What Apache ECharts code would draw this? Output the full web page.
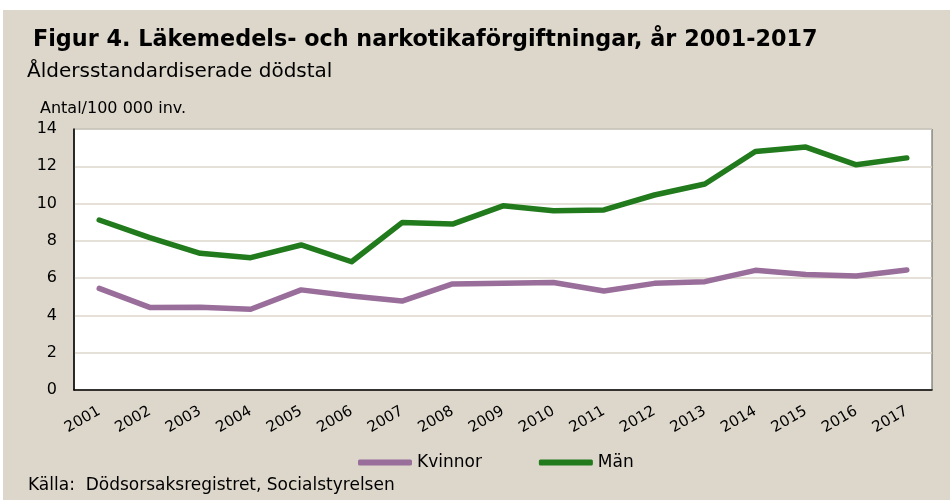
<!DOCTYPE html>
<html><head><meta charset="utf-8">
<script src="https://cdn.jsdelivr.net/npm/echarts@6/dist/echarts.min.js"></script>
<style>html,body{margin:0;padding:0;background:#fff}#c{width:950px;height:500px}</style>
</head><body><div id="c"></div>
<script>
const years = ['2001','2002','2003','2004','2005','2006','2007','2008','2009','2010','2011','2012','2013','2014','2015','2016','2017'];
const kvinnor = [5.45,4.43,4.44,4.33,5.37,5.04,4.77,5.69,5.72,5.77,5.31,5.72,5.81,6.42,6.20,6.11,6.44];
const man = [9.12,8.17,7.33,7.10,7.78,6.88,8.98,8.90,9.88,9.62,9.66,10.46,11.05,12.79,13.03,12.08,12.45];
const yTicks = [0,2,4,6,8,10,12,14];
const FONT = '"DejaVu Sans", sans-serif';
const chart = echarts.init(document.getElementById('c'));
chart.setOption({
  backgroundColor: '#ffffff',
  animation: false,
  textStyle: {fontFamily: FONT},
  graphic: [
    {type:'rect', z:-100, shape:{x:3,y:10,width:947,height:490}, style:{fill:'#DDD7CB'}},
    {type:'text', x:33, y:40, style:{text:'Figur 4. Läkemedels- och narkotikaförgiftningar, år 2001-2017', font:'bold 22.3px '+FONT, fill:'#000', verticalAlign:'middle'}},
    {type:'text', x:27, y:72, style:{text:'Åldersstandardiserade dödstal', font:'20px '+FONT, fill:'#000', verticalAlign:'middle'}},
    {type:'text', x:40, y:109, style:{text:'Antal/100 000 inv.', font:'16px '+FONT, fill:'#000', verticalAlign:'middle'}},
    {type:'text', x:28, y:486, style:{text:'Källa:  Dödsorsaksregistret, Socialstyrelsen', font:'17px '+FONT, fill:'#000', verticalAlign:'middle'}}
  ],
  grid: {left:74, right:18, top:129, bottom:110, show:true, backgroundColor:'#fff', borderColor:'#595959', borderWidth:1},
  legend: {
    top: 449, left: 353, itemGap: 57, itemWidth: 54, itemHeight: 6, icon: 'roundRect',
    textStyle: {fontSize: 17, color:'#000', fontFamily: FONT},
    data: ['Kvinnor','Män']
  },
  xAxis: {
    type:'category', data: years, boundaryGap: true,
    axisLine:{lineStyle:{color:'#000', width:1.5}},
    axisTick:{lineStyle:{color:'#000'}, length:5, inside:true, alignWithLabel:false},
    axisLabel:{rotate:30, fontSize:15, color:'#000', margin:20, interval:0}
  },
  yAxis: {
    type:'value', min:0, max:14, interval:2,
    axisLine:{show:true, lineStyle:{color:'#000', width:1.5}},
    axisTick:{show:false},
    axisLabel:{fontSize:16, color:'#000', margin:17},
    splitLine:{lineStyle:{color:'#DDD7CB', width:1.5}}
  },
  series: [
    {name:'Kvinnor', type:'line', data:kvinnor, symbol:'none', lineStyle:{color:'#9A6E9A', width:5.5, cap:'round', join:'round'}, itemStyle:{color:'#9A6E9A'}},
    {name:'Män', type:'line', data:man, symbol:'none', lineStyle:{color:'#217A1C', width:5.5, cap:'round', join:'round'}, itemStyle:{color:'#217A1C'}}
  ]
});
</script></body></html>
